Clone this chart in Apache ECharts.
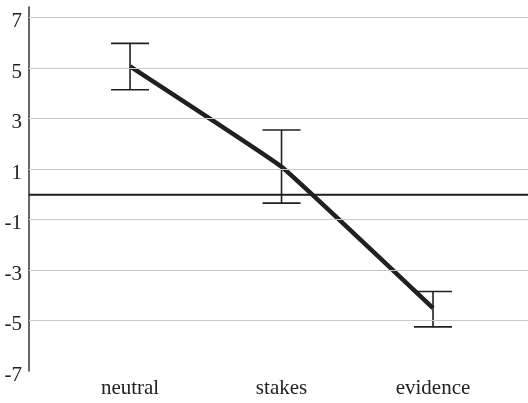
<!DOCTYPE html>
<html><head><meta charset="utf-8">
<script src="https://cdn.jsdelivr.net/npm/echarts@6/dist/echarts.min.js"></script>
<style>html,body{margin:0;padding:0;background:#fff}#c{width:528px;height:403px}</style>
</head><body><div id="c"></div>
<script>
const categories = ['neutral', 'stakes', 'evidence'];
const catPos = [1, 2, 3];
const means = [5.07, 1.09, -4.51];
const errHigh = [5.98, 2.55, -3.85];
const errLow = [4.14, -0.35, -5.25];
const yTicks = [-7, -5, -3, -1, 1, 3, 5, 7];

const chart = echarts.init(document.getElementById('c'));
const font = 'Liberation Serif';
chart.setOption({
  animation: false,
  grid: {left: 29, right: 0, top: 7, bottom: 32},
  xAxis: {
    type: 'value', min: 0.333, max: 3.627,
    axisLine: {show: true, lineStyle: {color: '#333', width: 1.5}},
    axisTick: {show: false},
    splitLine: {show: false},
    axisLabel: {
      customValues: catPos,
      formatter: v => categories[Math.round(v) - 1] || '',
      fontFamily: font, fontSize: 21, color: '#222', margin: 7
    }
  },
  yAxis: {
    type: 'value', min: -7, max: 7.42, interval: 2,
    axisLine: {show: true, lineStyle: {color: '#333', width: 1.5}},
    axisTick: {show: false},
    splitLine: {show: false},
    axisLabel: {
      customValues: yTicks,
      formatter: v => '{a|' + v + '}',
      rich: {a: {fontFamily: font, fontSize: 21, color: '#222', padding: [8, 0, 0, 0]}},
      fontFamily: font, fontSize: 21, color: '#222', margin: 7
    }
  },
  series: [
    {
      type: 'line', data: [], silent: true,
      markLine: {
        symbol: 'none', silent: true, label: {show: false},
        lineStyle: {color: '#c8c8c8', width: 1.2, type: 'solid'},
        data: yTicks.filter(v => v !== -7).map(v => ({yAxis: v}))
      }
    },
    {
      type: 'line', data: [], silent: true,
      markLine: {
        symbol: 'none', silent: true, label: {show: false},
        lineStyle: {color: '#222', width: 1.3, type: 'solid'},
        data: [{yAxis: 0}]
      }
    },
    {
      type: 'custom',
      data: catPos.map((x, i) => [x, errLow[i], errHigh[i]]),
      renderItem: (params, api) => {
        const x = api.value(0);
        const lo = api.coord([x, api.value(1)]);
        const hi = api.coord([x, api.value(2)]);
        const hw = 19;
        const st = {stroke: '#231f20', lineWidth: 1.6};
        return {type: 'group', children: [
          {type: 'line', shape: {x1: lo[0], y1: lo[1], x2: hi[0], y2: hi[1]}, style: st},
          {type: 'line', shape: {x1: lo[0] - hw, y1: lo[1], x2: lo[0] + hw, y2: lo[1]}, style: st},
          {type: 'line', shape: {x1: hi[0] - hw, y1: hi[1], x2: hi[0] + hw, y2: hi[1]}, style: st}
        ]};
      },
      z: 3
    },
    {
      type: 'line',
      data: catPos.map((x, i) => [x, means[i]]),
      smooth: 0.08,
      showSymbol: false,
      lineStyle: {color: '#231f20', width: 4.5, join: 'round'},
      z: 4
    }
  ]
});
</script></body></html>
